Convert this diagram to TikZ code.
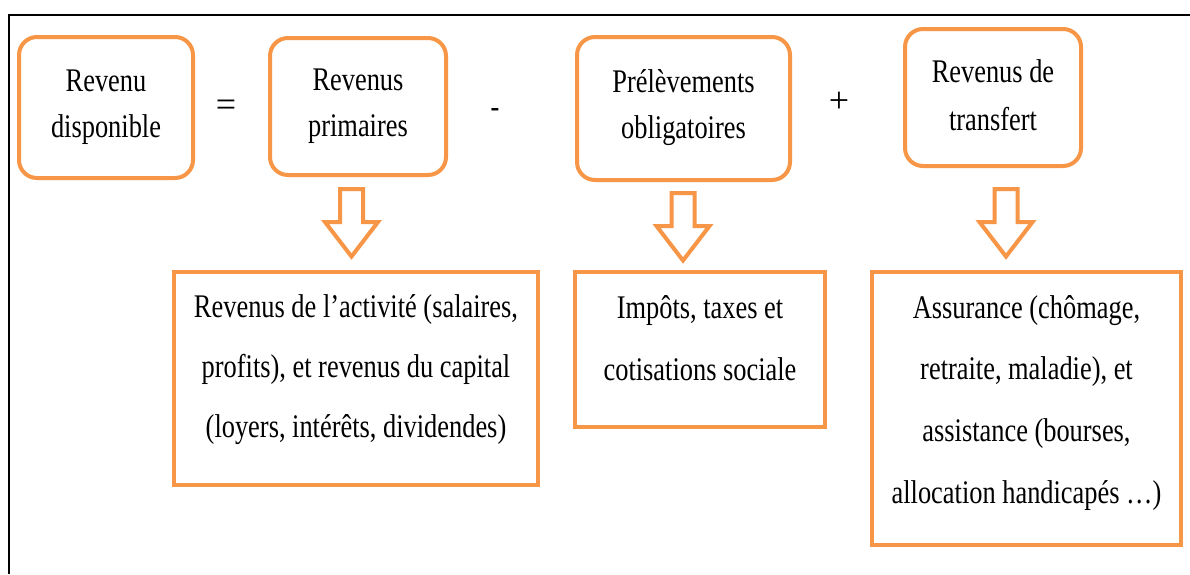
\documentclass[tikz,border=0pt]{standalone}
\usepackage{fontspec}
\setmainfont[FakeStretch=0.8]{Liberation Serif}
\newfontfamily\opfont{Liberation Serif}
\definecolor{boxorange}{RGB}{247,150,70}
\newcommand\bxt[5]{\parbox[c][#2][t]{#1}{\centering\baselineskip=#4\rule{0pt}{#3}#5\par}}
\tikzset{
  rbox/.style={draw=boxorange, line width=4pt, rounded corners=18pt, inner sep=0pt, fill=white},
  sbox/.style={draw=boxorange, line width=4pt, inner sep=0pt, fill=white},
  txt/.style={font=\fontsize{33}{46}\selectfont},
  optxt/.style={font=\opfont\fontsize{36}{44}\selectfont, inner sep=0pt},
  arrowline/.style={draw=boxorange, line width=4pt, fill=white, line join=miter},
  downarr/.pic={\path[arrowline] (-11.5,0) -- (11.5,0) -- (11.5,33) -- (26.5,33) -- (0,67.5) -- (-26.5,33) -- (-11.5,33) -- cycle;}
}
\begin{document}
\begin{tikzpicture}[x=1pt,y=-1pt]
\useasboundingbox (0,0) rectangle (1190,574);
\fill[white] (0,0) rectangle (1190,574);
\draw[line width=2.5pt] (9,574) -- (9,15) -- (1190,15);
% top boxes
\node[rbox, txt] (b1) at (106,107.5) {\bxt{174pt}{141pt}{54pt}{46pt}{Revenu\\disponible}};
\node[rbox, txt] (b2) at (358,106.5) {\bxt{176pt}{137pt}{52pt}{46pt}{Revenus\\primaires}};
\node[rbox, txt] (b3) at (683.5,108.5) {\bxt{213pt}{143pt}{55pt}{46pt}{Prélèvements\\obligatoires}};
\node[rbox, txt] (b4) at (993,97.5) {\bxt{176pt}{137pt}{53pt}{48pt}{Revenus de\\transfert}};
% operators
\node[optxt] (eq) at (226,108) {=};
\node[txt, inner sep=0pt] (mi) at (495,113) {-};
\node[optxt] (pl) at (839,102) {+};
% bottom boxes
\node[sbox, txt] (b5) at (356,378.5) {\bxt{364pt}{213pt}{45pt}{60pt}{Revenus de l’activité (salaires,\\profits), et revenus du capital\\(loyers, intérêts, dividendes)}};
\node[sbox, txt] (b6) at (700,349.5) {\bxt{250pt}{155pt}{46pt}{62pt}{Impôts, taxes et\\cotisations sociale}};
\node[sbox, txt] (b7) at (1026.5,408.5) {\bxt{309pt}{273pt}{46pt}{61.7pt}{Assurance (chômage,\\retraite, maladie), et\\assistance (bourses,\\allocation handicapés …)}};
% block arrows
\coordinate (a1) at (351.5,189);
\coordinate (a2) at (683,193);
\coordinate (a3) at (1006,189);
\pic at (a1) {downarr};
\pic at (a2) {downarr};
\pic at (a3) {downarr};
\end{tikzpicture}
\end{document}
